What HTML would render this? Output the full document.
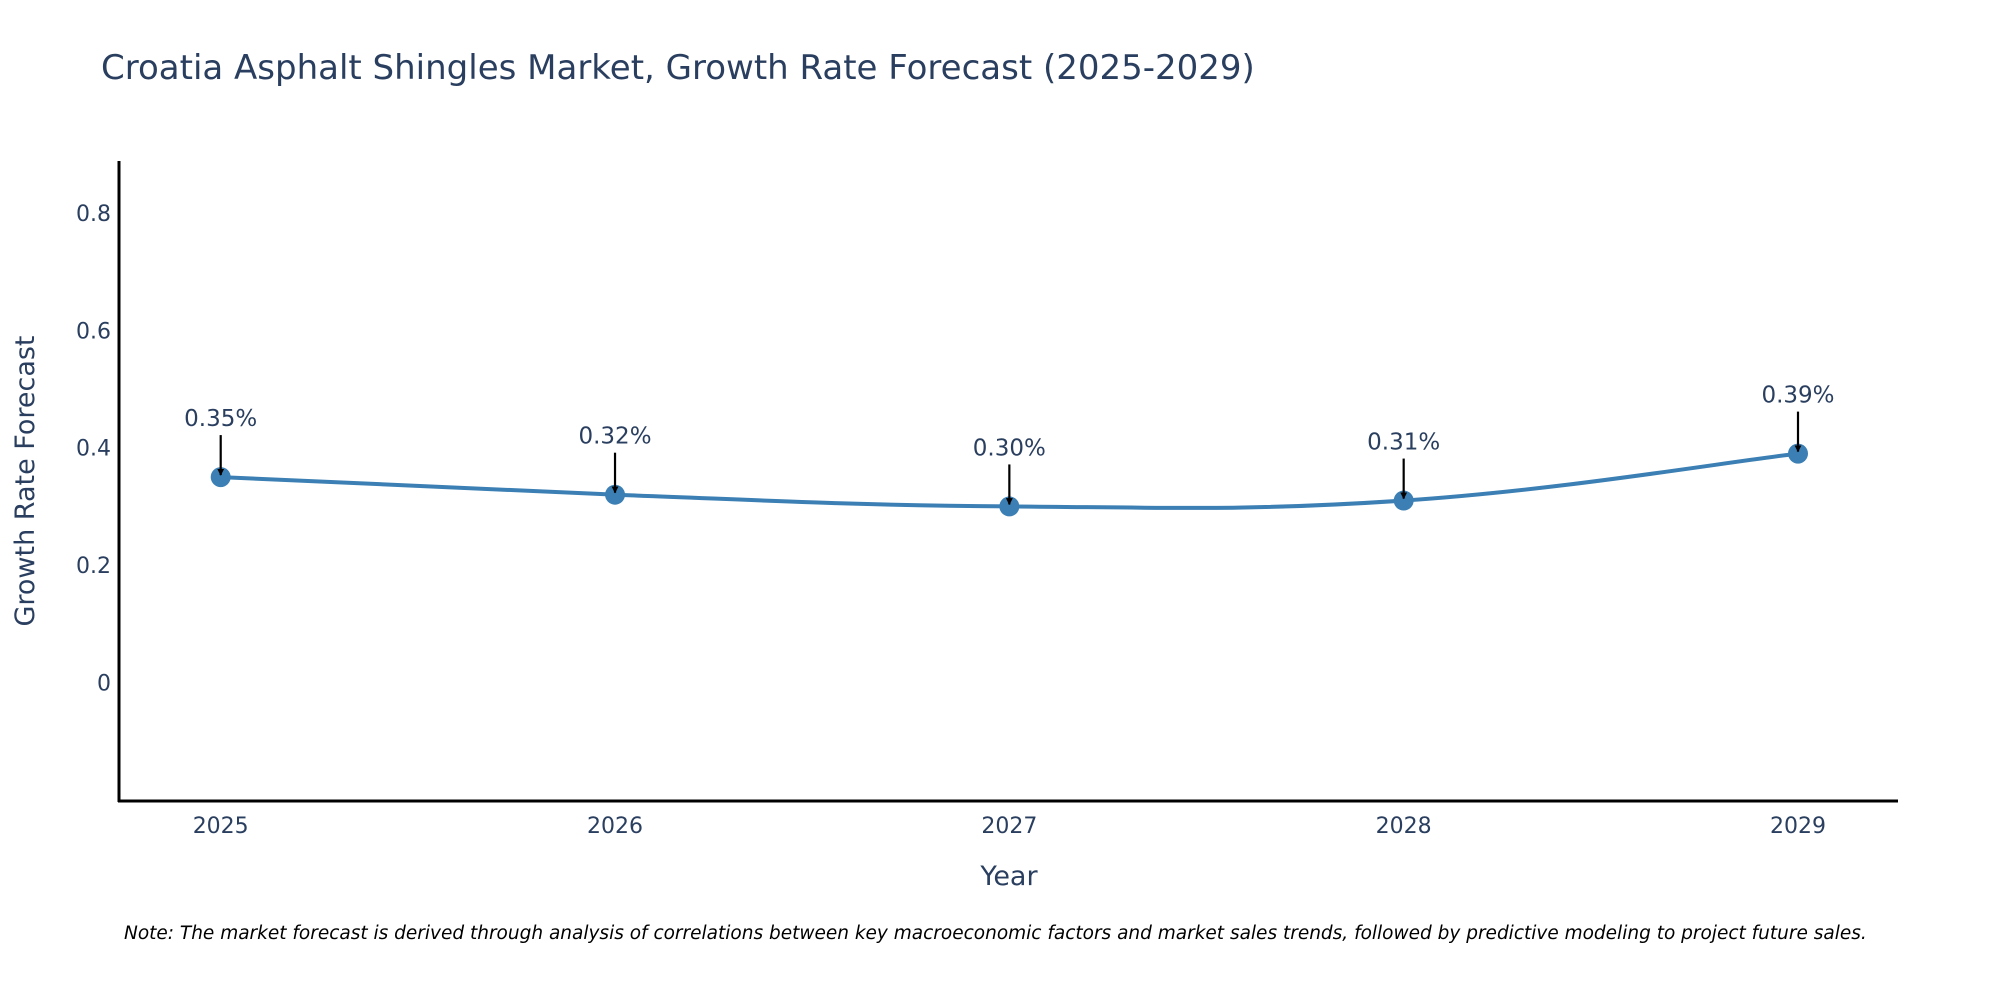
<!DOCTYPE html>
<html><head><meta charset="utf-8"><style>
body{margin:0;background:#fff;}
svg text{font-family:"DejaVu Sans","Liberation Sans",sans-serif;fill:#2a3f5f;}
</style></head><body>
<svg width="2000" height="1000" viewBox="0 0 2000 1000" xmlns="http://www.w3.org/2000/svg">
<defs><marker id="ah" viewBox="0 0 10 10" refX="9" refY="5" markerWidth="7" markerHeight="7" markerUnits="userSpaceOnUse" orient="auto"><path d="M0,0 L10,5 L0,10 z" fill="#000"/></marker></defs>
<text x="101" y="79" font-size="34">Croatia Asphalt Shingles Market, Growth Rate Forecast (2025-2029)</text>
<g id="yticks"></g>
<g id="xticks"></g>
<line x1="119" y1="161" x2="119" y2="802" stroke="#000" stroke-width="3"/>
<line x1="118" y1="801" x2="1898" y2="801" stroke="#000" stroke-width="3"/>
<text transform="translate(34,481) rotate(-90)" text-anchor="middle" font-size="27">Growth Rate Forecast</text>
<text x="1009" y="885" text-anchor="middle" font-size="27">Year</text>
<g id="series"></g>
<text x="124" y="939" font-size="18.5" font-style="italic" style="fill:#000">Note: The market forecast is derived through analysis of correlations between key macroeconomic factors and market sales trends, followed by predictive modeling to project future sales.</text>
</svg>
<script>
const years = [2025, 2026, 2027, 2028, 2029];
const growth = [0.35, 0.32, 0.30, 0.31, 0.39];
const labels = ["0.35%", "0.32%", "0.30%", "0.31%", "0.39%"];
const yTicks = [0, 0.2, 0.4, 0.6, 0.8];
const yTickLabels = ["0", "0.2", "0.4", "0.6", "0.8"];

const NS = "http://www.w3.org/2000/svg";
function xs(yr){ return 220.7 + (yr - 2025) * (1798 - 220.7) / 4; }
function ys(v){ return 682.5 - v * 586.9; }
function mk(tag, attrs, parent){ const e = document.createElementNS(NS, tag); for (const k in attrs) e.setAttribute(k, attrs[k]); parent.appendChild(e); return e; }

const yg = document.getElementById('yticks');
yTicks.forEach((t, i) => {
  const el = mk('text', {x: 111, y: ys(t) + 8, 'text-anchor': 'end', 'font-size': 22}, yg);
  
  
  el.textContent = yTickLabels[i];
});
const xg = document.getElementById('xticks');
years.forEach(y => {
  const el = mk('text', {x: xs(y), y: 833, 'text-anchor': 'middle', 'font-size': 22}, xg);
  
  
  el.textContent = String(y);
});

const sg = document.getElementById('series');
const pts = years.map((y, i) => [xs(y), ys(growth[i])]);
let d = `M${pts[0][0]},${pts[0][1]}`;
const s = 0.2;
for (let i = 0; i < pts.length - 1; i++) {
  const p0 = pts[i - 1] || pts[i], p1 = pts[i], p2 = pts[i + 1], p3 = pts[i + 2] || p2;
  const c1 = [p1[0] + (p2[0] - p0[0]) * s, p1[1] + (p2[1] - p0[1]) * s];
  const c2 = [p2[0] - (p3[0] - p1[0]) * s, p2[1] - (p3[1] - p1[1]) * s];
  d += ` C${c1[0]},${c1[1]} ${c2[0]},${c2[1]} ${p2[0]},${p2[1]}`;
}
const line = mk('path', {d: d, fill: 'none', stroke: '#3b7fb4', 'stroke-width': 4}, sg);


pts.forEach((p, i) => {
  const c = mk('circle', {cx: p[0], cy: p[1], r: 10, fill: '#3b7fb4'}, sg);
  
  
  const a = mk('line', {x1: p[0], y1: p[1] - 42, x2: p[0], y2: p[1] - 2, stroke: '#000', 'stroke-width': 2.2, 'marker-end': 'url(#ah)'}, sg);
  
  
  const t = mk('text', {x: p[0], y: p[1] - 51, 'text-anchor': 'middle', 'font-size': 23}, sg);
  
  
  t.textContent = labels[i];
});
</script>
</body></html>
